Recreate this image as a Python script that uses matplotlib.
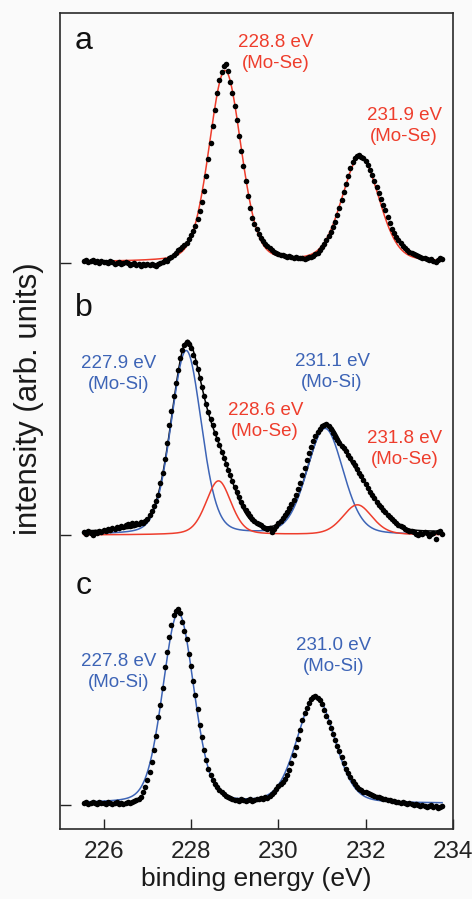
import numpy as np
import matplotlib
matplotlib.use("Agg")
import matplotlib.pyplot as plt

plt.rcParams['font.family'] = ['Liberation Sans', 'DejaVu Sans']

# ---------------- data ----------------
# measured binding-energy grid (eV), 0.05 eV steps
energy = np.round(np.arange(225.55, 233.751, 0.05), 2)

# intensities above each spectrum's baseline (arb. units)
a_int = [2, 3, 1, 2, 3, 1, 2, 0, 2, 1,
         1, 0, 2, 1, -1, 0, 1, -1, 0, 1,
         0, -2, -1, 0, -2, -1, -3, -1, -2, -1,
         -2, -1, -2, -3, -1, 0, 1, 3, 2, 5,
         6, 8, 10, 13, 14, 16, 18, 20, 24, 28,
         32, 37, 44, 52, 61, 72, 87, 104, 120, 137,
         153, 170, 183, 191, 197, 199, 192, 181, 170, 157,
         143, 127, 112, 97, 82, 67, 55, 45, 39, 34,
         29, 25, 22, 19, 17, 15, 13, 11, 10, 9,
         8, 8, 7, 6, 7, 6, 5, 6, 5, 5,
         5, 4, 5, 6, 6, 7, 9, 10, 13, 16,
         19, 23, 27, 31, 36, 41, 48, 55, 63, 71,
         79, 87, 95, 101, 105, 107, 108, 106, 105, 102,
         98, 93, 88, 82, 76, 70, 64, 58, 53, 46,
         40, 34, 30, 26, 23, 20, 17, 15, 13, 11,
         10, 9, 8, 7, 6, 5, 5, 4, 3, 4,
         2, 1, 3, 5, 4]

b_int = [3, 1, 4, 2, 0, 3, 2, 4, 3, 5,
         4, 6, 5, 7, 6, 8, 7, 9, 8, 10,
         11, 9, 12, 10, 12, 11, 13, 12, 14, 16,
         20, 24, 29, 34, 40, 52, 62, 76, 92, 110,
         124, 139, 152, 165, 177, 185, 190, 193, 191, 187,
         180, 173, 166, 157, 148, 139, 131, 123, 116, 110,
         102, 96, 90, 83, 77, 71, 65, 60, 54, 48,
         43, 38, 33, 29, 25, 22, 19, 16, 14, 12,
         11, 10, 8, 7, 6, 7, 3, 6, 9, 12,
         14, 17, 20, 23, 27, 31, 35, 40, 46, 52,
         60, 67, 75, 82, 88, 94, 99, 103, 106, 109,
         110, 111, 109, 106, 102, 98, 95, 92, 89, 87,
         84, 80, 77, 73, 70, 66, 62, 59, 55, 51,
         47, 43, 40, 37, 33, 30, 28, 25, 23, 20,
         18, 16, 14, 12, 10, 9, 8, 6, 5, 4,
         4, 3, 1, 0, 2, 1, 3, 2, -1, 1,
         2, -4, 3, 4, 1]

c_int = [2, 3, 1, 2, 3, 2, 1, 3, 2, 2,
         1, 3, 2, 1, 2, 3, 1, 2, 1, 2,
         3, 2, 3, 4, 5, 6, 8, 13, 18, 25,
         33, 43, 55, 69, 88, 100, 117, 138, 153, 168,
         180, 190, 194, 196, 192, 183, 174, 166, 151, 139,
         124, 110, 96, 80, 68, 55, 45, 36, 30, 25,
         21, 18, 15, 13, 11, 9, 8, 7, 6, 5,
         5, 4, 6, 5, 4, 5, 6, 4, 5, 6,
         6, 7, 6, 8, 7, 9, 11, 13, 16, 19,
         21, 23, 26, 30, 35, 42, 50, 58, 66, 75,
         85, 92, 97, 102, 106, 108, 109, 107, 105, 101,
         95, 89, 83, 77, 71, 65, 59, 54, 48, 42,
         36, 32, 28, 24, 21, 18, 16, 15, 13, 13,
         12, 11, 10, 9, 8, 8, 7, 6, 6, 5,
         5, 4, 4, 3, 3, 2, 3, 2, 1, 2,
         1, 0, 1, 0, -1, 0, -1, -2, -1, 0,
         -2, -1, -3, -2, -1]

# fitted peaks: (centre eV, height, FWHM eV, Lorentzian fraction)
a_mose = [(228.78, 191, 0.86, 0.2), (231.88, 105, 1.00, 0.2)]
a_bg = 1
b_mosi = [(227.89, 184, 0.82, 0.2), (231.07, 106, 0.98, 0.2)]
b_mose = [(228.63, 54, 0.68, 0.3), (231.81, 30, 0.80, 0.3)]
b_env = [(227.89, 182, 0.82, 0.2), (228.62, 65, 0.85, 0.0),
         (231.07, 101, 0.98, 0.2), (231.90, 38, 1.00, 0.0)]
b_bg = 3
c_mosi = [(227.71, 190, 0.84, 0.2), (230.86, 106, 1.02, 0.2)]
c_bg = 1.5

# vertical offsets of the stacked spectra
offsets = {'a': 566, 'b': 294, 'c': 24}

panel_labels = ['a', 'b', 'c']
x_ticks = [226, 228, 230, 232, 234]

# ---------------- style ----------------
RED = '#ee3d2c'
BLUE = '#3d64b6'
BG = '#fafafa'
MS = 4.0


def pvoigt(x, peaks):
    y = np.zeros_like(x)
    for c, h, w, eta in peaks:
        d = (x - c) / w
        y += h * ((1 - eta) * np.exp(-4 * np.log(2) * d ** 2) + eta / (1 + 4 * d ** 2))
    return y


fig = plt.figure(figsize=(4.72, 8.99), dpi=100, facecolor=BG)
ax = fig.add_axes([60 / 472, 1 - 829 / 899, 393 / 472, 816 / 899], facecolor=BG)

xf = np.linspace(energy[0], energy[-1], 800)

# panel a
oa = offsets['a']
ax.plot(xf, oa + a_bg + pvoigt(xf, a_mose), color=RED, lw=1.1, zorder=2)
ax.plot(energy, oa + np.array(a_int), 'o', color='black', ms=MS, mew=0, zorder=3)

# panel b
ob = offsets['b']
ax.plot(xf, ob + b_bg + pvoigt(xf, b_env), color='black', lw=1.1, zorder=2)
ax.plot(xf, ob + pvoigt(xf, b_mosi), color=BLUE, lw=1.1, zorder=2)
ax.plot(xf, ob + pvoigt(xf, b_mose), color=RED, lw=1.1, zorder=2)
ax.plot(energy, ob + np.array(b_int), 'o', color='black', ms=MS, mew=0, zorder=3)

# panel c
oc = offsets['c']
ax.plot(xf, oc + c_bg + pvoigt(xf, c_mosi), color=BLUE, lw=1.1, zorder=2)
ax.plot(energy, oc + np.array(c_int), 'o', color='black', ms=MS, mew=0, zorder=3)

ax.set_xlim(225, 234)
ax.set_ylim(0, 816)
ax.set_xticks(x_ticks)
ax.set_xticklabels([str(t) for t in x_ticks])
ax.set_yticks([offsets['a'], offsets['b'], offsets['c']])
ax.set_yticklabels([])
ax.tick_params(axis='x', direction='in', length=7, width=1.0, pad=9,
               labelsize=17.5, colors='#222222')
ax.tick_params(axis='y', direction='in', length=8, width=1.0, colors='#222222')
for s in ax.spines.values():
    s.set_linewidth(1.2)
    s.set_color('#2a2a2a')

ax.set_xlabel('binding energy (eV)', fontsize=19, color='#1a1a1a')
ax.xaxis.set_label_coords(0.5, -0.046)
ax.set_ylabel('intensity (arb. units)', fontsize=22.5, color='#1a1a1a')
ax.yaxis.set_label_coords(-0.040, 0.527)

# panel letters
for lab, ypos in zip(panel_labels, [788, 521, 243]):
    ax.text(225.55, ypos, lab, fontsize=23, ha='center', va='center', color='#111111')

# peak annotations
tk = dict(fontsize=13.5, ha='center', va='center', linespacing=1.25)
ax.text(229.95, 776, '228.8 eV\n(Mo-Se)', color=RED, **tk)
ax.text(232.88, 703, '231.9 eV\n(Mo-Se)', color=RED, **tk)
ax.text(226.34, 455, '227.9 eV\n(Mo-Si)', color=BLUE, **tk)
ax.text(231.23, 457, '231.1 eV\n(Mo-Si)', color=BLUE, **tk)
ax.text(229.70, 408, '228.6 eV\n(Mo-Se)', color=RED, **tk)
ax.text(232.90, 380, '231.8 eV\n(Mo-Se)', color=RED, **tk)
ax.text(226.34, 157, '227.8 eV\n(Mo-Si)', color=BLUE, **tk)
ax.text(231.26, 173, '231.0 eV\n(Mo-Si)', color=BLUE, **tk)

fig.savefig('out.png', dpi=100, facecolor=BG)
